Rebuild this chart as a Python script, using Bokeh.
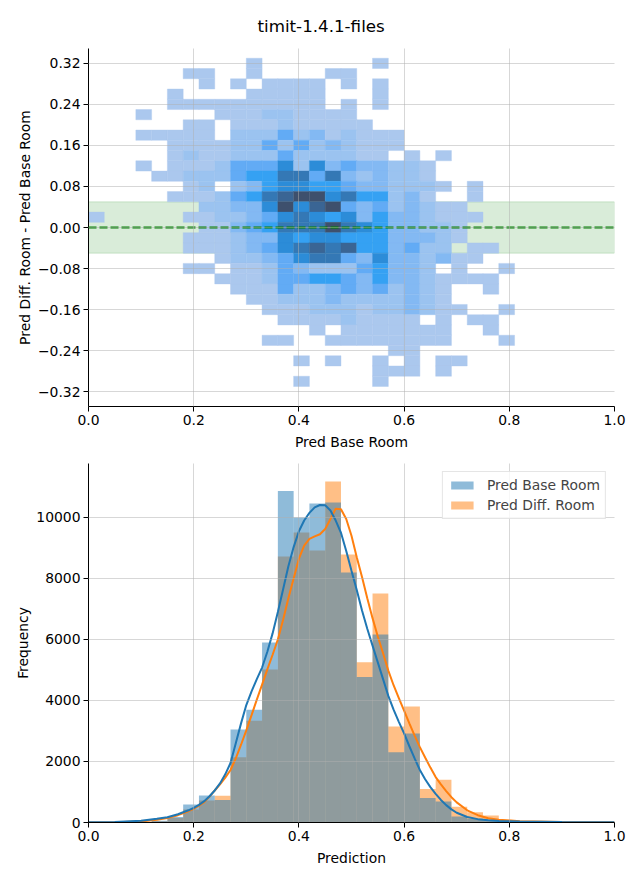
from bokeh.plotting import figure
from bokeh.models import (ColumnDataSource, Span, BoxAnnotation, FixedTicker,
                          Legend, LegendItem, Title, NumeralTickFormatter)
from bokeh.layouts import column
from bokeh.embed import file_html
from bokeh.resources import INLINE

FONT = "DejaVu Sans"
TITLE = "timit-1.4.1-files"
BIN_WIDTH = 0.03
CELL_HEIGHT = 0.02

# ---------------- top panel: 2D histogram (shade level per cell, 0 = empty) -------------
heat_row_centers = [0.34, 0.32, 0.30, 0.28, 0.26, 0.24, 0.22, 0.20, 0.18, 0.16, 0.14,
                    0.12, 0.10, 0.08, 0.06, 0.04, 0.02, 0.00, -0.02, -0.04, -0.06,
                    -0.08, -0.10, -0.12, -0.14, -0.16, -0.18, -0.20, -0.22, -0.24,
                    -0.26, -0.28, -0.30, -0.32]
# each string: bins 0..26 along x (0.00-0.81, width 0.03)
heat_levels = [
    "000000000" "000000000" "000000000",
    "000000000" "010000000" "100000000",
    "000000110" "010000110" "000000000",
    "000000010" "101111010" "100000000",
    "000001000" "011111000" "100000000",
    "000001111" "111111010" "100000000",
    "000100001" "112211110" "000000000",
    "000000110" "111211111" "000000000",
    "000111110" "222423121" "110000000",
    "000001111" "224242321" "110000000",
    "000001211" "222422221" "101010000",
    "000101112" "444626343" "322100000",
    "000011222" "455774732" "322100000",
    "000000120" "235665543" "322210100",
    "000001112" "457899675" "523100100",
    "000000022" "336968943" "423211000",
    "100000112" "234676563" "533211100",
    "000000011" "345777976" "533221000",
    "000000111" "233656655" "533321000",
    "000000111" "234678785" "534220110",
    "000000001" "223467743" "633231100",
    "000000110" "112432224" "533201001",
    "000000001" "112445543" "533211110",
    "000000000" "111422343" "423210010",
    "000000000" "011222322" "223210000",
    "000000000" "001112221" "223211001",
    "000000000" "000111121" "111010110",
    "000000000" "000001011" "111110010",
    "000000000" "001100111" "111110001",
    "000000000" "000000000" "011000000",
    "000000000" "000010100" "101011000",
    "000000000" "000000000" "111010000",
    "000000000" "000010000" "100000000",
    "000000000" "000000000" "000000000",
]
heat_palette = ["#abc8ee", "#9bc3f0", "#83b9f3", "#62abf5", "#35a1f3",
                "#2c8cd8", "#3478b5", "#3a6594", "#3e506d"]

band_half_width = 0.05
top_yticks = [-0.32, -0.24, -0.16, -0.08, 0.0, 0.08, 0.16, 0.24, 0.32]
top_ytick_labels = ["\u22120.32", "\u22120.24", "\u22120.16", "\u22120.08", "0.00",
                    "0.08", "0.16", "0.24", "0.32"]
xticks = [0.0, 0.2, 0.4, 0.6, 0.8, 1.0]

# ---------------- bottom panel: histograms + KDE ----------------
hist_bins = list(range(34))  # bin index, width 0.03 starting at 0
base_counts = [0, 0, 5, 20, 60, 180, 590, 885, 740, 3050, 3700, 5900, 10870, 10000,
               10460, 10490, 8200, 4770, 6160, 2300, 2920, 800, 690, 200, 120, 80,
               40, 20, 10, 5, 3, 0, 0, 0]
diff_counts = [0, 0, 0, 10, 40, 150, 430, 720, 880, 2140, 3340, 5020, 8720, 9510,
               8920, 11180, 8790, 5250, 7510, 3150, 3800, 1100, 1400, 520, 340, 230,
               80, 40, 20, 10, 5, 0, 0, 0]

kde_x = [0.00, 0.05, 0.10, 0.13, 0.15, 0.17, 0.19, 0.20, 0.21, 0.22, 0.23, 0.24, 0.25,
         0.26, 0.27, 0.28, 0.29, 0.30, 0.31, 0.32, 0.33, 0.34, 0.35, 0.36, 0.37, 0.38,
         0.39, 0.40, 0.41, 0.42, 0.43, 0.44, 0.45, 0.46, 0.47, 0.48, 0.49, 0.50, 0.51,
         0.52, 0.53, 0.54, 0.55, 0.56, 0.57, 0.58, 0.59, 0.60, 0.61, 0.62, 0.63, 0.64,
         0.65, 0.66, 0.67, 0.68, 0.69, 0.70, 0.72, 0.74, 0.76, 0.78, 0.82, 0.90, 1.00]
kde_base = [5, 15, 60, 120, 175, 270, 400, 480, 580, 700, 860, 1050, 1280,
            1580, 1950, 2600, 3250, 3850, 4300, 4700, 5080, 5600, 6200, 6900, 7650, 8400,
            9030, 9550, 9900, 10150, 10330, 10410, 10400, 10230, 9900, 9500, 8900, 8250, 7620,
            6950, 6350, 5800, 5250, 4700, 4150, 3700, 3300, 2920, 2500, 2100, 1720, 1420,
            1160, 940, 740, 570, 430, 320, 180, 110, 70, 50, 30, 15, 8]
kde_diff = [3, 10, 35, 90, 150, 240, 370, 450, 550, 670, 840, 1050, 1250,
            1470, 1720, 2100, 2550, 3020, 3520, 4030, 4520, 5020, 5500, 6000, 6650, 7350,
            8000, 8650, 9080, 9300, 9380, 9450, 9620, 9950, 10290, 10270, 9950, 9400, 8700,
            8050, 7350, 6700, 6100, 5550, 4980, 4500, 4080, 3670, 3250, 2850, 2470, 2130,
            1800, 1490, 1250, 1030, 830, 660, 400, 240, 140, 90, 45, 15, 5]
bottom_yticks = [0, 2000, 4000, 6000, 8000, 10000]

BLUE = "#1f77b4"
ORANGE = "#ff7f0e"


def style_axes(p):
    p.outline_line_color = None
    for ax in (p.xaxis[0], p.yaxis[0]):
        ax.axis_line_color = "black"
        ax.axis_line_width = 1
        ax.major_tick_line_color = "black"
        ax.major_tick_out = 5
        ax.major_tick_in = 0
        ax.minor_tick_line_color = None
        ax.major_label_text_font = FONT
        ax.major_label_text_font_size = "13.9px"
        ax.major_label_text_color = "black"
        ax.major_label_standoff = 3
        ax.axis_label_text_font = FONT
        ax.axis_label_text_font_size = "13.9px"
        ax.axis_label_text_font_style = "normal"
        ax.axis_label_text_color = "black"
    p.xaxis[0].axis_label_standoff = 6
    p.yaxis[0].axis_label_standoff = 2
    p.grid.grid_line_color = "#b0b0b0"
    p.grid.grid_line_alpha = 0.5
    p.grid.grid_line_width = 1
    p.grid.level = "overlay"
    p.xaxis[0].ticker = FixedTicker(ticks=xticks)
    p.xaxis[0].formatter = NumeralTickFormatter(format="0.0")
    p.xgrid[0].ticker = FixedTicker(ticks=xticks)


# ---------- top figure ----------
p1 = figure(width=632, height=452, x_range=(0, 1), y_range=(-0.349, 0.349),
            output_backend="svg", toolbar_location=None,
            min_border_left=88, min_border_right=18, min_border_top=48, min_border_bottom=46,
            x_axis_label="Pred Base Room", y_axis_label="Pred Diff. Room - Pred Base Room")
p1.background_fill_color = "white"
title = Title(text=TITLE, align="left", offset=169, text_font=FONT, text_color="black",
              text_font_size="16.7px", text_font_style="normal", standoff=26)
p1.add_layout(title, "above")

band = BoxAnnotation(bottom=-band_half_width, top=band_half_width, fill_color="green",
                     fill_alpha=0.15, line_color="green", line_alpha=0.15, line_width=1,
                     level="underlay")
p1.add_layout(band)

lefts, rights, bottoms, tops, colors = [], [], [], [], []
for yc, row in zip(heat_row_centers, heat_levels):
    for i, ch in enumerate(row):
        lvl = int(ch)
        if lvl == 0:
            continue
        lefts.append(i * BIN_WIDTH)
        rights.append((i + 1) * BIN_WIDTH)
        bottoms.append(yc - CELL_HEIGHT / 2)
        tops.append(yc + CELL_HEIGHT / 2)
        colors.append(heat_palette[lvl - 1])
heat_src = ColumnDataSource(dict(left=lefts, right=rights, bottom=bottoms, top=tops, color=colors))
p1.quad(left="left", right="right", bottom="bottom", top="top", source=heat_src,
        fill_color="color", line_color="color", line_width=0.4)

p1.add_layout(Span(location=0, dimension="width", line_color="green", line_dash="8 3",
                   line_width=2))
style_axes(p1)
p1.yaxis[0].ticker = FixedTicker(ticks=top_yticks)
p1.ygrid[0].ticker = FixedTicker(ticks=top_yticks)
p1.yaxis[0].major_label_overrides = {v: s for v, s in zip(top_yticks, top_ytick_labels)}

# ---------- bottom figure ----------
p2 = figure(width=632, height=416, x_range=(0, 1), y_range=(0, 11770),
            output_backend="svg", toolbar_location=None,
            min_border_left=88, min_border_right=18, min_border_top=11, min_border_bottom=46,
            x_axis_label="Prediction", y_axis_label="Frequency")
hl = [b * BIN_WIDTH for b in hist_bins]
hr = [(b + 1) * BIN_WIDTH for b in hist_bins]
src_diff = ColumnDataSource(dict(left=hl, right=hr, top=diff_counts))
src_base = ColumnDataSource(dict(left=hl, right=hr, top=base_counts))
r_diff = p2.quad(left="left", right="right", bottom=0, top="top", source=src_diff,
                 fill_color=ORANGE, fill_alpha=0.5, line_color=None)
r_base = p2.quad(left="left", right="right", bottom=0, top="top", source=src_base,
                 fill_color=BLUE, fill_alpha=0.5, line_color=None)
p2.line(kde_x, kde_diff, line_color=ORANGE, line_width=2)
p2.line(kde_x, kde_base, line_color=BLUE, line_width=2)
style_axes(p2)
p2.yaxis[0].ticker = FixedTicker(ticks=bottom_yticks)
p2.ygrid[0].ticker = FixedTicker(ticks=bottom_yticks)

legend = Legend(items=[LegendItem(label="Pred Base Room", renderers=[r_base]),
                       LegendItem(label="Pred Diff. Room", renderers=[r_diff])],
                location="top_right", margin=8, padding=5, spacing=4,
                glyph_width=28, glyph_height=10, label_height=16, label_standoff=11,
                label_text_font=FONT, label_text_font_size="13.9px",
                border_line_color="#cccccc", border_line_width=1,
                background_fill_alpha=0.8)
p2.add_layout(legend)

layout = column(p1, p2, spacing=0)
open("out.html", "w").write(file_html(layout, INLINE))
